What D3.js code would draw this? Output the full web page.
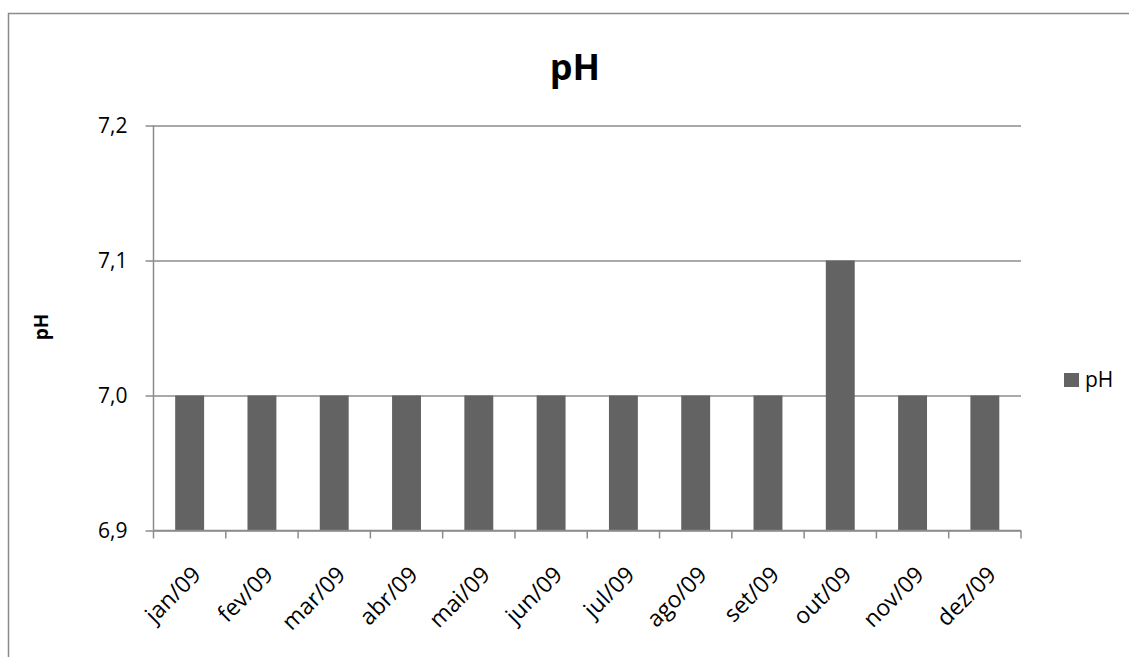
<!DOCTYPE html>
<html>
<head>
<meta charset="utf-8">
<script src="https://cdn.jsdelivr.net/npm/d3@7"></script>
<style>
  html, body { margin: 0; padding: 0; background: #fff; }
  svg { display: block; }
  svg text { font-family: "Open Sans", Lato, sans-serif; }
</style>
</head>
<body>
<svg id="chart" width="1129" height="657"></svg>
<script>
// Monthly pH readings, 2009
const months = ["jan/09", "fev/09", "mar/09", "abr/09", "mai/09", "jun/09",
                "jul/09", "ago/09", "set/09", "out/09", "nov/09", "dez/09"];
const phValues = [7.0, 7.0, 7.0, 7.0, 7.0, 7.0, 7.0, 7.0, 7.0, 7.1, 7.0, 7.0];
const yTicks = [6.9, 7.0, 7.1, 7.2];
const seriesName = "pH";

const svg = d3.select("#chart");
const W = 1129, H = 657;
const plot = { left: 153.5, top: 125.5, right: 1021, bottom: 530.5 };

const gridColor = "#8c8c8c";
const barColor = "#636363";

// outer chart frame (runs past the right and bottom edges)
svg.append("rect")
  .attr("x", 8.5).attr("y", 13.5)
  .attr("width", W + 20).attr("height", H + 20)
  .attr("fill", "#fff").attr("stroke", "#8a8a8a").attr("stroke-width", 1.5);

const x = d3.scaleBand().domain(months).range([plot.left, plot.right]).paddingInner(0.6).paddingOuter(0.3);
const xEdge = d3.scaleLinear().domain([0, months.length]).range([plot.left, plot.right]);
const y = d3.scaleLinear().domain([6.9, 7.2]).range([plot.bottom, plot.top]);

const fmt = v => d3.format(".1f")(v).replace(".", ",");

// horizontal gridlines with left tick marks
const yAxis = d3.axisLeft(y).tickValues(yTicks).tickFormat(fmt)
  .tickSize(-(plot.right - plot.left)).tickPadding(26);
const gy = svg.append("g").attr("transform", `translate(${plot.left},0)`).call(yAxis)
  .attr("font-family", null).attr("font-size", null);
gy.select(".domain").remove();
gy.selectAll(".tick line").attr("stroke", gridColor).attr("stroke-width", 1.5).attr("x1", -8);
gy.selectAll(".tick text").attr("fill", "#000").style("font-size", "21px").attr("dy", "0.35em");

// bars
svg.append("g").selectAll("rect").data(phValues).join("rect")
  .attr("x", (d, i) => x(months[i]))
  .attr("width", x.bandwidth())
  .attr("y", d => y(d))
  .attr("height", d => y(6.9) - y(d))
  .attr("fill", barColor);

// vertical axis line
svg.append("line")
  .attr("x1", plot.left).attr("x2", plot.left)
  .attr("y1", plot.top).attr("y2", plot.bottom)
  .attr("stroke", gridColor).attr("stroke-width", 1.5);

// category axis: baseline and ticks between categories
const gx = svg.append("g");
gx.append("line")
  .attr("x1", plot.left).attr("x2", plot.right)
  .attr("y1", plot.bottom).attr("y2", plot.bottom)
  .attr("stroke", gridColor).attr("stroke-width", 1.5);
gx.selectAll("line.tk").data(d3.range(months.length + 1)).join("line")
  .attr("class", "tk")
  .attr("x1", i => xEdge(i)).attr("x2", i => xEdge(i))
  .attr("y1", plot.bottom).attr("y2", plot.bottom + 8)
  .attr("stroke", gridColor).attr("stroke-width", 1.5);

// rotated month labels
gx.selectAll("text").data(months).join("text")
  .attr("transform", d => `translate(${x(d) + x.bandwidth() / 2 + 7},${plot.bottom + 40}) rotate(-45)`)
  .attr("text-anchor", "end")
  .attr("dy", "0.35em")
  .style("font-size", "23px")
  .attr("fill", "#000")
  .text(d => d);

// title
svg.append("text")
  .attr("x", 575).attr("y", 80)
  .attr("text-anchor", "middle")
  .style("font-size", "36px").style("font-weight", "bold")
  .text("pH");

// y-axis title
svg.append("text")
  .attr("transform", "translate(48,327) rotate(-90)")
  .attr("text-anchor", "middle")
  .style("font-size", "19px").style("font-weight", "bold")
  .text("pH");

// legend
const lg = svg.append("g").attr("transform", "translate(1064,373)");
lg.append("rect").attr("width", 15).attr("height", 14).attr("fill", barColor);
lg.append("text").attr("x", 21).attr("y", 7).attr("dy", "0.35em")
  .style("font-size", "21px").text(seriesName);
</script>
</body>
</html>
